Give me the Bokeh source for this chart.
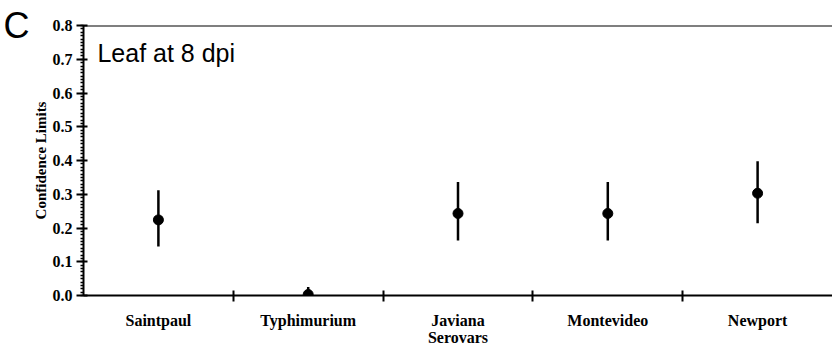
from bokeh.plotting import figure
from bokeh.models import ColumnDataSource, FixedTicker, Span, Label, Range1d, LinearAxis
from bokeh.embed import file_html
from bokeh.resources import INLINE

categories = ["Saintpaul", "Typhimurium", "Javiana\nSerovars", "Montevideo", "Newport"]
means = [0.224, 0.003, 0.243, 0.243, 0.303]
lower = [0.145, 0.0, 0.163, 0.163, 0.214]
upper = [0.312, 0.025, 0.336, 0.336, 0.398]
y_ticks = [0.0, 0.1, 0.2, 0.3, 0.4, 0.5, 0.6, 0.7, 0.8]
panel_letter = "C"
panel_title = "Leaf at 8 dpi"

xpos = [i + 0.5 for i in range(len(categories))]
src = ColumnDataSource(dict(x=xpos, m=means, lo=lower, hi=upper))

p = figure(width=832, height=348, output_backend="svg", toolbar_location=None,
           x_range=Range1d(0, len(categories)), y_range=Range1d(0, 0.8),
           min_border_left=83, min_border_right=0, min_border_top=25, min_border_bottom=10)
p.outline_line_color = None
p.xgrid.visible = False
p.ygrid.visible = False
p.background_fill_color = "white"

p.segment(x0="x", y0="lo", x1="x", y1="hi", source=src, line_color="black", line_width=2.5)
p.scatter(x="x", y="m", source=src, size=10, color="black")

# x axis
xa = p.xaxis[0]
xa.ticker = FixedTicker(ticks=xpos, minor_ticks=[i for i in range(1, len(categories))])
xa.major_label_overrides = {x: c for x, c in zip(xpos, categories)}
xa.major_tick_in = 0
xa.major_tick_out = 0
xa.minor_tick_in = 5
xa.minor_tick_out = 6
xa.minor_tick_line_width = 2
xa.axis_line_width = 2
xa.major_label_standoff = 10
xa.major_label_text_font = "Liberation Serif"
xa.major_label_text_font_style = "bold"
xa.major_label_text_font_size = "16px"
xa.major_label_text_line_height = 1.0
xa.major_label_text_color = "black"

# y axis
ya = p.yaxis[0]
ya.ticker = FixedTicker(ticks=y_ticks, minor_ticks=[i / 100 for i in range(0, 81)])
ya.major_label_overrides = {t: f"{t:.1f}" for t in y_ticks}
ya.major_tick_in = 4
ya.major_tick_out = 7
ya.major_tick_line_width = 2
ya.minor_tick_in = 0
ya.minor_tick_out = 3
ya.minor_tick_line_width = 1.5
ya.axis_line_width = 2
ya.major_label_standoff = 4
ya.major_label_text_font = "Liberation Serif"
ya.major_label_text_font_style = "bold"
ya.major_label_text_font_size = "16px"
ya.major_label_text_color = "black"
ya.axis_label = "Confidence Limits"
ya.axis_label_text_font = "Liberation Serif"
ya.axis_label_text_font_style = "bold"
ya.axis_label_text_font_size = "15px"
ya.axis_label_standoff = 1
ya.axis_label_text_color = "black"

# outer left axis carrying only the panel letter at the top
outer = LinearAxis(ticker=FixedTicker(ticks=[y_ticks[-1]], minor_ticks=[]),
                   major_label_overrides={y_ticks[-1]: panel_letter})
outer.axis_line_color = None
outer.major_tick_line_color = None
outer.minor_tick_line_color = None
outer.major_tick_in = 0
outer.major_tick_out = 0
outer.major_label_standoff = 0
outer.major_label_text_font = "Liberation Sans"
outer.major_label_text_font_size = "36px"
outer.major_label_text_color = "black"
p.add_layout(outer, "left")

p.add_layout(Span(location=0.8, dimension="width", line_color="black", line_width=2))

p.add_layout(Label(x=0.093, y=0.72, text=panel_title, text_font="Liberation Sans",
                   text_font_size="25px", text_color="black", text_baseline="alphabetic"))

open("out.html", "w").write(file_html(p, INLINE))
